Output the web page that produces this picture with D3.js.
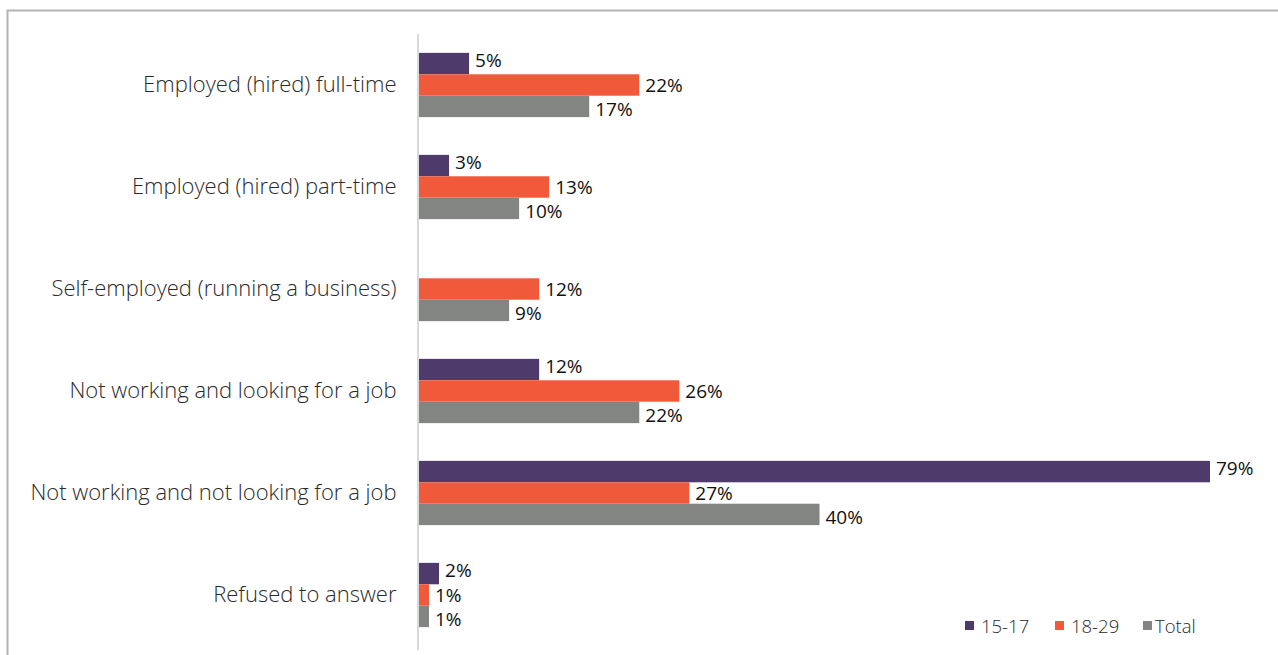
<!DOCTYPE html>
<html>
<head>
<meta charset="utf-8">
<script src="https://cdn.jsdelivr.net/npm/d3@7/dist/d3.min.js"></script>
<style>
  html, body { margin: 0; padding: 0; background: #fff; }
  svg { display: block; font-family: "Open Sans", "Noto Sans", sans-serif; }
</style>
</head>
<body>
<svg id="chart" width="1278" height="655"></svg>
<script>
// Employment status by age group (%)
const categories = [
  "Employed (hired) full-time",
  "Employed (hired) part-time",
  "Self-employed (running a business)",
  "Not working and looking for a job",
  "Not working and not looking for a job",
  "Refused to answer"
];
const seriesNames = ["15-17", "18-29", "Total"];
const values1517  = [5, 3, null, 12, 79, 2];
const values1829  = [22, 13, 12, 26, 27, 1];
const valuesTotal = [17, 10, 9, 22, 40, 1];
const seriesColors = ["#4e3b6b", "#f05a3a", "#838582"];

const seriesValues = [values1517, values1829, valuesTotal];

const svg = d3.select("#chart");
const W = 1278, H = 655;

// outer frame (top and left edges visible)
svg.append("rect")
  .attr("x", 7.5).attr("y", 10.5)
  .attr("width", W + 10).attr("height", H + 10)
  .attr("fill", "none")
  .attr("stroke", "#b4b4b4")
  .attr("stroke-width", 2);

const x0 = 419;
const x = d3.scaleLinear().domain([0, 79]).range([x0, x0 + 791]);

const y = d3.scaleBand()
  .domain(categories)
  .range([34, 646])
  .paddingInner(0.37)
  .paddingOuter(0.185);

const ySub = d3.scaleBand()
  .domain(seriesNames)
  .range([0, y.bandwidth()])
  .padding(0);

// category axis
const yAxis = d3.axisLeft(y).tickSize(0).tickPadding(22);
const gAxis = svg.append("g")
  .attr("transform", `translate(${x0 - 0.5},0)`)
  .call(yAxis);
gAxis.select(".domain").remove();
gAxis.selectAll("text")
  .attr("font-size", 22)
  .attr("font-weight", 300)
  .attr("fill", "#2a2a2a")
  .style("font-family", "'Open Sans', sans-serif");

svg.append("line")
  .attr("x1", x0 - 1).attr("x2", x0 - 1)
  .attr("y1", 34).attr("y2", 650)
  .attr("stroke", "#d9d9d9")
  .attr("stroke-width", 2);

// bars and value labels
seriesNames.forEach((name, si) => {
  const data = categories.map((c, i) => ({ cat: c, v: seriesValues[si][i] }))
    .filter(d => d.v != null);
  const g = svg.append("g");
  g.selectAll("rect")
    .data(data)
    .enter().append("rect")
    .attr("x", x(0))
    .attr("y", d => y(d.cat) + ySub(name))
    .attr("width", d => x(d.v) - x(0))
    .attr("height", ySub.bandwidth())
    .attr("fill", seriesColors[si]);
  g.selectAll("text")
    .data(data)
    .enter().append("text")
    .attr("x", d => x(d.v) + 6)
    .attr("y", d => y(d.cat) + ySub(name) + ySub.bandwidth() / 2 + (si === 0 ? -3 : si === 2 ? 3 : 0))
    .attr("dy", "0.35em")
    .attr("font-size", 19)
    .attr("fill", "#111")
    .text(d => d.v + "%");
});

// legend
const legendX = [965, 1055, 1143];
const legend = svg.append("g");
seriesNames.forEach((name, i) => {
  legend.append("rect")
    .attr("x", legendX[i]).attr("y", 621)
    .attr("width", 9).attr("height", 9)
    .attr("fill", seriesColors[i]);
  legend.append("text")
    .attr("x", legendX[i] + (i === 2 ? 12 : 16))
    .attr("y", 633)
    .attr("font-size", 18.5)
    .attr("font-weight", 300)
    .attr("fill", "#2a2a2a")
    .text(name);
});
</script>
</body>
</html>
